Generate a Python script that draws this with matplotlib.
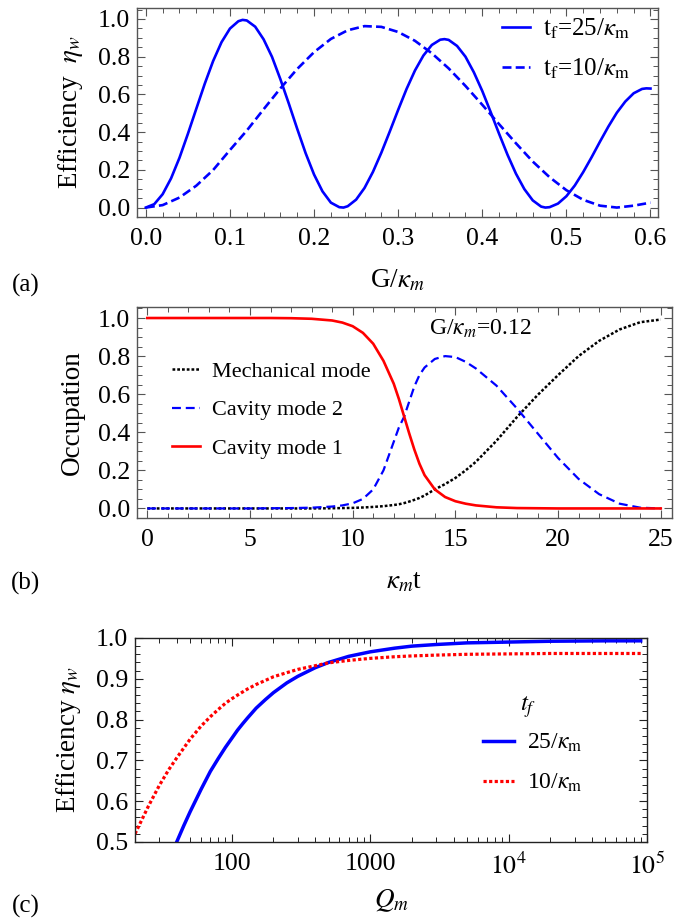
import matplotlib
matplotlib.use("Agg")
import matplotlib.pyplot as plt
from matplotlib.ticker import MultipleLocator, FixedLocator, LogLocator, NullFormatter

plt.rcParams['font.family'] = ['Liberation Serif', 'DejaVu Serif']
plt.rcParams['mathtext.fontset'] = 'stix'

# ---- panel (a): efficiency vs G/kappa_m ----
g_25 = [0.00, 0.01, 0.02, 0.03, 0.04, 0.05, 0.06, 0.07, 0.08, 0.09,
        0.10, 0.11, 0.115, 0.12, 0.13, 0.14, 0.15, 0.16, 0.17, 0.18, 0.19,
        0.20, 0.21, 0.22, 0.23, 0.235, 0.24, 0.25, 0.26, 0.27, 0.28, 0.29,
        0.30, 0.31, 0.32, 0.33, 0.34, 0.35, 0.355, 0.36, 0.37, 0.38, 0.39,
        0.40, 0.41, 0.42, 0.43, 0.44, 0.45, 0.46, 0.47, 0.475, 0.48, 0.49,
        0.50, 0.51, 0.52, 0.53, 0.54, 0.55, 0.56, 0.57, 0.58, 0.59, 0.595, 0.60]
eta_25 = [0.000, 0.018, 0.071, 0.155, 0.264, 0.391, 0.524, 0.656, 0.777, 0.877,
          0.949, 0.988, 0.995, 0.992, 0.959, 0.892, 0.799, 0.680, 0.551, 0.417, 0.288,
          0.175, 0.086, 0.026, 0.002, 0.000, 0.007, 0.042, 0.104, 0.189, 0.291, 0.403,
          0.518, 0.629, 0.727, 0.806, 0.862, 0.890, 0.893, 0.889, 0.857, 0.800, 0.717,
          0.618, 0.506, 0.391, 0.280, 0.180, 0.098, 0.038, 0.005, 0.000, 0.002, 0.021,
          0.060, 0.117, 0.188, 0.267, 0.350, 0.430, 0.503, 0.562, 0.606, 0.629, 0.632, 0.631]
g_10 = [0.00, 0.02, 0.04, 0.06, 0.08, 0.10, 0.12, 0.14, 0.16, 0.18,
        0.20, 0.22, 0.24, 0.26, 0.28, 0.30, 0.32, 0.34, 0.36, 0.38,
        0.40, 0.42, 0.44, 0.46, 0.48, 0.50, 0.52, 0.54, 0.56, 0.58, 0.60]
eta_10 = [0.000, 0.013, 0.053, 0.116, 0.199, 0.305, 0.408, 0.521, 0.632, 0.735,
          0.824, 0.894, 0.940, 0.962, 0.958, 0.931, 0.884, 0.818, 0.738, 0.645,
          0.545, 0.442, 0.341, 0.244, 0.161, 0.092, 0.041, 0.010, 0.000, 0.010, 0.026]

# ---- panel (b): occupations vs kappa_m t ----
t = [0, 1, 2, 3, 4, 5, 6, 7, 8, 9, 9.5, 10, 10.5, 11, 11.5, 12, 12.25, 12.5,
     12.75, 13, 13.25, 13.5, 14, 14.5, 15, 15.5, 16, 17, 18, 19, 20, 21, 22, 23, 24, 25]
cav1 = [1.0, 1.0, 1.0, 1.0, 1.0, 1.0, 1.0, 0.999, 0.996, 0.987, 0.976, 0.957, 0.922,
        0.865, 0.775, 0.655, 0.575, 0.485, 0.395, 0.31, 0.235, 0.175, 0.10, 0.06, 0.038,
        0.025, 0.016, 0.006, 0.002, 0.001, 0.0, 0.0, 0.0, 0.0, 0.0, 0.0]
cav2 = [0.0, 0.0, 0.0, 0.0, 0.0, 0.0, 0.001, 0.002, 0.004, 0.010, 0.016, 0.027, 0.05,
        0.10, 0.20, 0.35, 0.425, 0.48, 0.56, 0.64, 0.70, 0.74, 0.785, 0.80, 0.795,
        0.77, 0.735, 0.645, 0.525, 0.395, 0.265, 0.155, 0.075, 0.025, 0.004, 0.0]
mech = [0.0, 0.0, 0.0, 0.0, 0.0, 0.0, 0.0, 0.0, 0.0, 0.001, 0.002, 0.003, 0.005,
        0.008, 0.012, 0.018, 0.022, 0.028, 0.036, 0.045, 0.055, 0.068, 0.10, 0.128, 0.16,
        0.20, 0.245, 0.355, 0.48, 0.595, 0.70, 0.80, 0.88, 0.94, 0.978, 0.992]

# ---- panel (c): efficiency vs Q_m ----
q_25 = [40, 45, 50, 60, 70, 80, 90, 100, 110, 120, 130, 150, 175, 200, 250, 300,
        400, 500, 700, 1000, 1500, 2000, 3000, 5000, 10000, 20000, 50000, 90000]
eff_25 = [0.50, 0.540, 0.574, 0.629, 0.673, 0.705, 0.732, 0.754, 0.774, 0.790,
          0.804, 0.828, 0.849, 0.866, 0.890, 0.906, 0.927, 0.940, 0.955, 0.966,
          0.975, 0.980, 0.984, 0.988, 0.990, 0.992, 0.993, 0.993]
q_10 = [20, 25, 30, 35, 40, 50, 60, 70, 80, 90, 100, 110, 130, 150, 175, 200, 250,
        300, 400, 500, 700, 1000, 1500, 2000, 3000, 5000, 10000, 20000, 50000, 90000]
eff_10 = [0.52, 0.588, 0.639, 0.677, 0.706, 0.752, 0.784, 0.807, 0.825, 0.840,
          0.851, 0.860, 0.875, 0.886, 0.896, 0.905, 0.915, 0.923, 0.932, 0.939,
          0.945, 0.950, 0.954, 0.956, 0.958, 0.960, 0.961, 0.962, 0.962, 0.962]

fig = plt.figure(figsize=(6.82, 9.21), dpi=100)
ax1 = fig.add_axes([0.2009, 0.7644, 0.764, 0.2269])
ax2 = fig.add_axes([0.2009, 0.4376, 0.7845, 0.2291])
ax3 = fig.add_axes([0.198, 0.0858, 0.7507, 0.2215])

blue = '#0000ff'
red = '#ff0000'


def style(ax, frame):
    for s in ax.spines.values():
        s.set_color(frame)
        s.set_linewidth(1.0)
    ax.tick_params(which='both', direction='in', top=True, right=True,
                   colors=frame, labelcolor='black', labelsize=18.5)
    ax.tick_params(which='major', length=6, width=0.8)
    ax.tick_params(which='minor', length=3.5, width=0.7)
    ax.tick_params(axis='x', pad=8)
    ax.tick_params(axis='y', pad=5)


# (a)
ax1.plot(g_25, eta_25, color=blue, lw=1.9, label=r'$\mathrm{t_f}$=25/$\kappa_\mathrm{m}$')
ax1.plot(g_10, eta_10, color=blue, lw=1.9, ls=(0, (3.4, 1.6)),
         label=r'$\mathrm{t_f}$=10/$\kappa_\mathrm{m}$')
ax1.set_xlim(-0.0105, 0.609)
ax1.set_ylim(-0.05, 1.058)
ax1.xaxis.set_major_locator(MultipleLocator(0.1))
ax1.xaxis.set_minor_locator(MultipleLocator(0.02))
ax1.yaxis.set_major_locator(MultipleLocator(0.2))
ax1.yaxis.set_minor_locator(MultipleLocator(0.05))
ax1.xaxis.set_major_formatter(matplotlib.ticker.FormatStrFormatter('%.1f'))
ax1.yaxis.set_major_formatter(matplotlib.ticker.FormatStrFormatter('%.1f'))
style(ax1, '#555555')
ax1.set_xlabel(r'G/$\kappa_m$', fontsize=19.5, labelpad=13)
ax1.set_ylabel(r'Efficiency  $\eta_w$', fontsize=19.5, labelpad=9)
ax1.legend(loc='upper left', bbox_to_anchor=(0.70, 0.958), frameon=False,
           fontsize=18, handlelength=1.15, handletextpad=0.5, labelspacing=0.6,
           borderpad=0, borderaxespad=0)

# (b)
ax2.plot(t, mech, color='black', lw=1.8, ls=(0, (1.1, 0.8)), label='Mechanical mode')
ax2.plot(t, cav2, color=blue, lw=1.6, ls=(0, (4, 2.2)), label='Cavity mode 2')
ax2.plot(t, cav1, color=red, lw=1.9, label='Cavity mode 1')
ax2.set_xlim(-0.5, 25.55)
ax2.set_ylim(-0.05, 1.058)
ax2.xaxis.set_major_locator(MultipleLocator(5))
ax2.xaxis.set_minor_locator(MultipleLocator(1))
ax2.yaxis.set_major_locator(MultipleLocator(0.2))
ax2.yaxis.set_minor_locator(MultipleLocator(0.05))
ax2.yaxis.set_major_formatter(matplotlib.ticker.FormatStrFormatter('%.1f'))
style(ax2, '#555555')
ax2.set_xlabel(r'$\kappa_m$t', fontsize=19.5, labelpad=13)
ax2.set_ylabel('Occupation', fontsize=19.5, labelpad=9)
ax2.text(0.545, 0.895, r'G/$\kappa_m$=0.12', transform=ax2.transAxes, fontsize=17,
         ha='left', va='center')
ax2.legend(loc='upper left', bbox_to_anchor=(0.066, 0.742), frameon=False,
           fontsize=16, handlelength=1.25, handletextpad=0.55, labelspacing=0.8,
           borderpad=0, borderaxespad=0)

# (c)
ax3.plot(q_25, eff_25, color=blue, lw=2.5, label=r'25/$\kappa_\mathrm{m}$')
ax3.plot(q_10, eff_10, color=red, lw=2.3, ls=(0, (1.0, 0.75)), label=r'10/$\kappa_\mathrm{m}$')
ax3.set_xscale('log')
ax3.set_xlim(20, 1.0e5)
ax3.set_ylim(0.5, 1.0)
ax3.xaxis.set_major_locator(FixedLocator([100, 1000, 1e4, 1e5]))
ax3.xaxis.set_major_formatter(matplotlib.ticker.FixedFormatter(['100', '1000', r'$10^4$', r'$10^5$']))
ax3.xaxis.set_minor_locator(LogLocator(base=10, subs=[2, 3, 4, 5, 6, 7, 8, 9]))
ax3.xaxis.set_minor_formatter(NullFormatter())
ax3.yaxis.set_major_locator(MultipleLocator(0.1))
ax3.yaxis.set_minor_locator(MultipleLocator(0.02))
ax3.yaxis.set_major_formatter(matplotlib.ticker.FormatStrFormatter('%.1f'))
style(ax3, '#222222')
ax3.set_xlabel(r'$Q_m$', fontsize=19.5, labelpad=6)
ax3.set_ylabel(r'Efficiency $\eta_w$', fontsize=19.5, labelpad=9)
ax3.text(0.752, 0.66, r'$t_f$', transform=ax3.transAxes, fontsize=18,
         ha='left', va='center')
ax3.legend(loc='upper left', bbox_to_anchor=(0.68, 0.54), frameon=False,
           fontsize=17, handlelength=1.3, handletextpad=0.55, labelspacing=0.75,
           borderpad=0, borderaxespad=0)

fig.text(0.038, 1 - 285 / 921, '(a)', fontsize=18, ha='center', va='center')
fig.text(0.038, 1 - 583 / 921, '(b)', fontsize=18, ha='center', va='center')
fig.text(0.038, 1 - 906 / 921, '(c)', fontsize=18, ha='center', va='center')

fig.savefig('out.png', dpi=100)
